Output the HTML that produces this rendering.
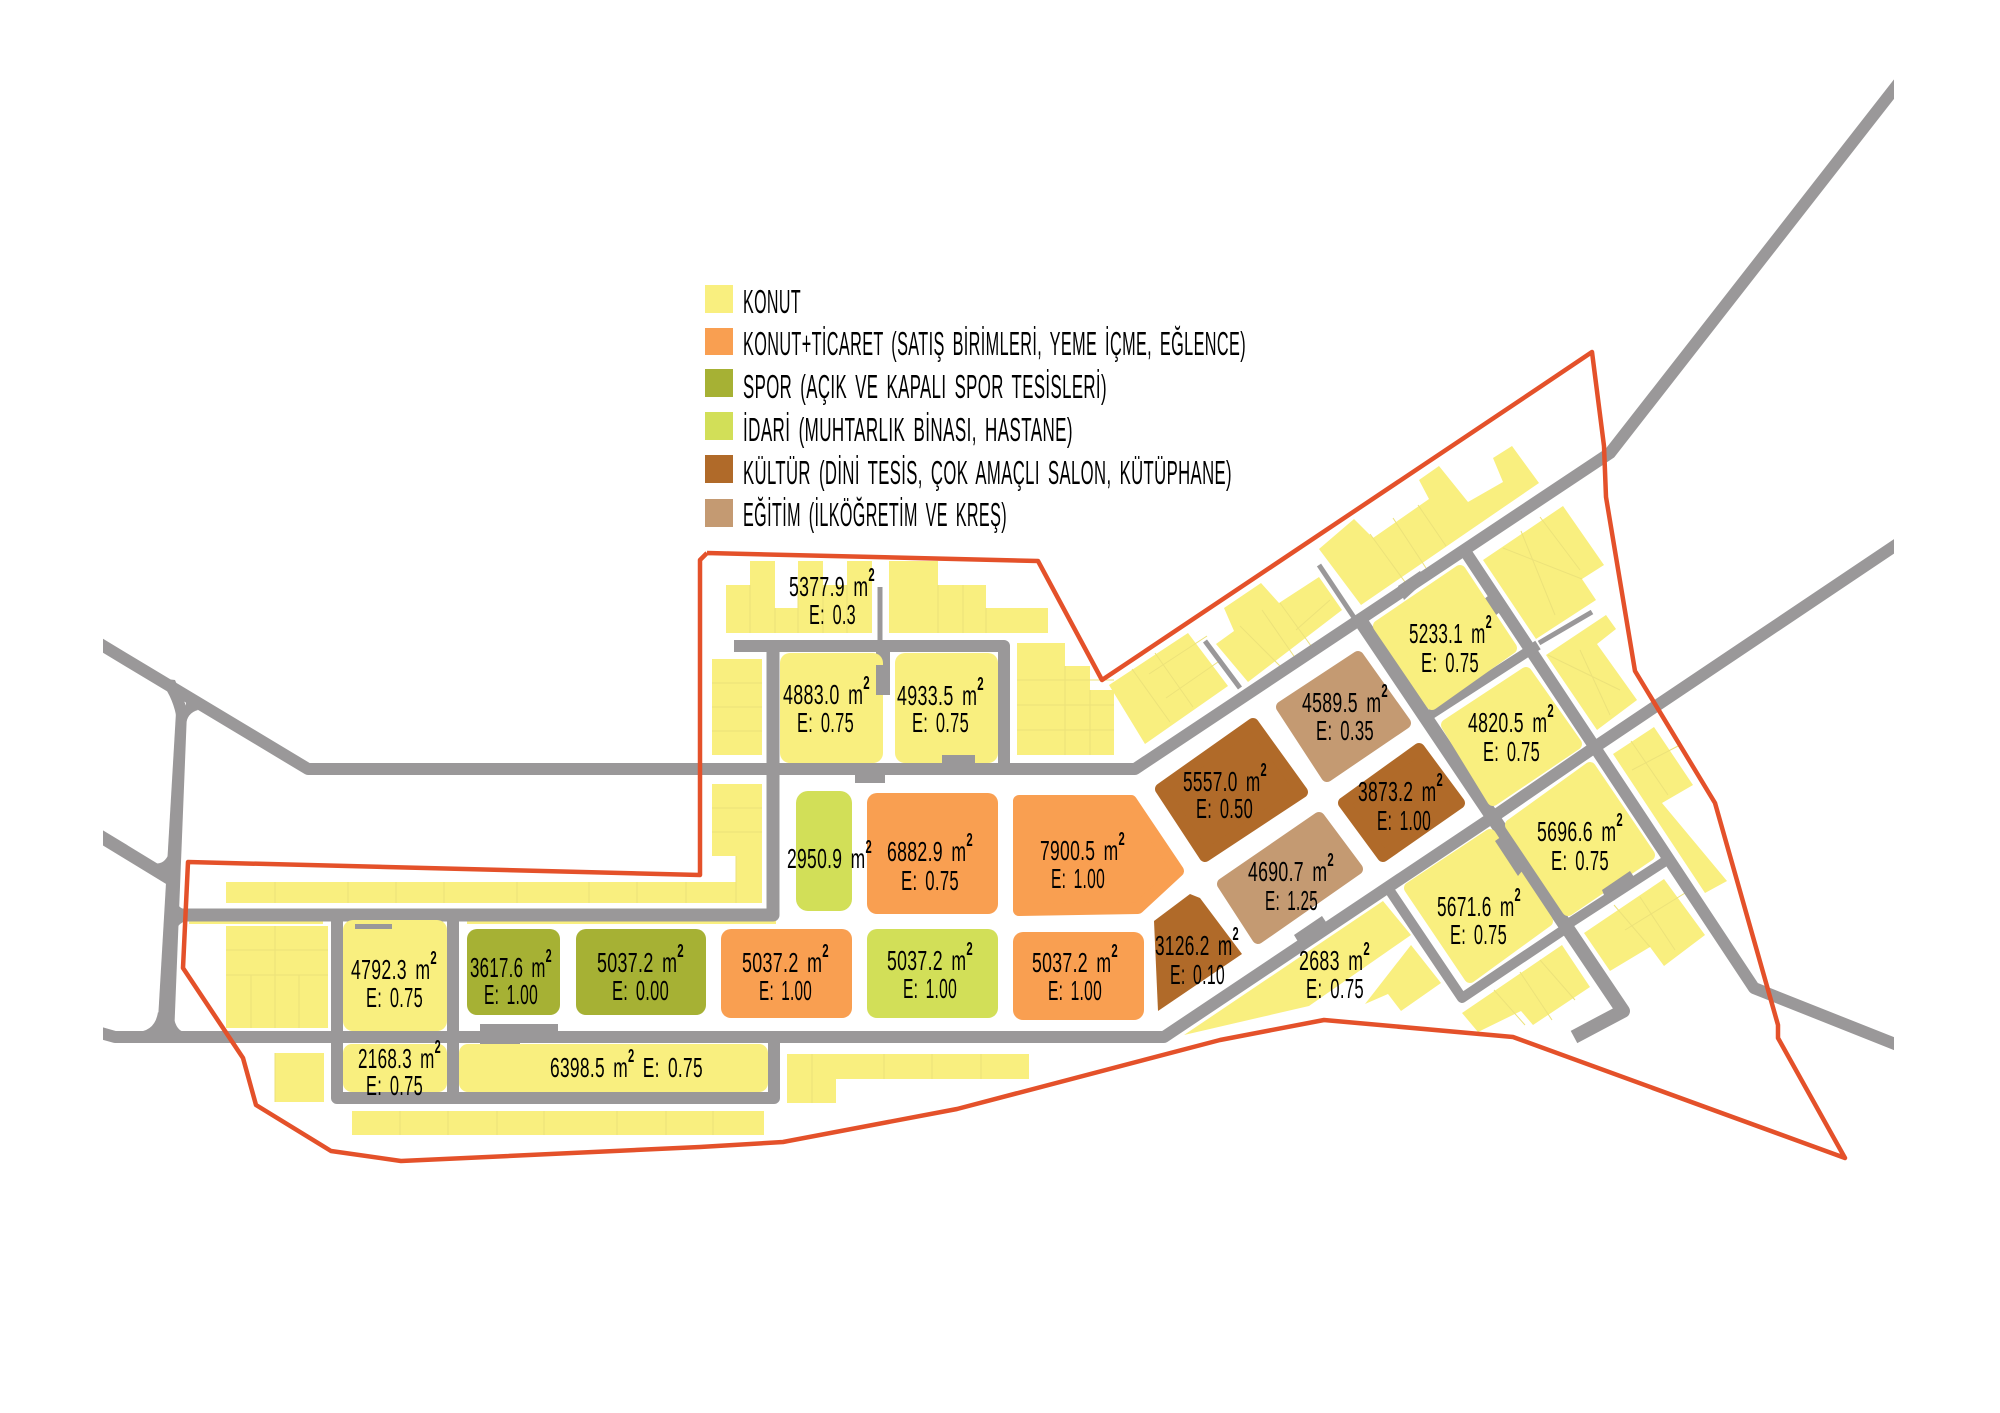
<!DOCTYPE html>
<html><head><meta charset="utf-8"><style>
html,body{margin:0;padding:0;background:#fff;width:2000px;height:1413px;overflow:hidden}
svg{display:block}
text{font-family:"Liberation Sans Narrow","Liberation Sans",sans-serif;fill:#000;font-size:28px;letter-spacing:.5px;word-spacing:5px}
.l text{font-size:33px;letter-spacing:.8px;word-spacing:6px}
.u{font-size:18px;font-weight:bold}
.y{fill:#f9ef7f}.o{fill:#f99f51}.s{fill:#a6b134}.g{fill:#d2df58}.b{fill:#b06a29}.t{fill:#c49a72}
.ry{fill:#f9ef7f;stroke:#f9ef7f}.ro{fill:#f99f51;stroke:#f99f51}.rb{fill:#b06a29;stroke:#b06a29}.rt{fill:#c49a72;stroke:#c49a72}
.rr polygon{stroke-width:12;stroke-linejoin:round}
.r{fill:none;stroke:#9a9899;stroke-linejoin:round}
.d{stroke:#ece27a;stroke-width:1;fill:none}
</style></head><body>
<svg width="2000" height="1413" viewBox="0 0 2000 1413" xmlns="http://www.w3.org/2000/svg">
<defs><clipPath id="c"><rect x="103" y="0" width="1791" height="1413"/></clipPath></defs>
<rect width="2000" height="1413" fill="#fff"/>

<!-- outer residential parcels -->
<g class="y">
<polygon points="726,585 750,585 750,561 775,561 775,608 798,608 798,561 823,561 823,585 847,585 847,561 872,561 872,633 726,633"/>
<polygon points="889,561 938,561 938,585 986,585 986,608 1048,608 1048,633 889,633"/>
<polygon points="1017,643 1065,643 1065,666 1090,666 1090,690 1114,690 1114,755 1017,755"/>
<rect x="712" y="659" width="50" height="96"/>
<polygon points="712,784 762,784 762,903 226,903 226,882 736,882 736,856 712,856"/>
<rect x="226" y="926" width="102" height="102"/>
<rect x="275" y="1053" width="49" height="49"/>
<rect x="352" y="1111" width="412" height="24"/>
<polygon points="787,1054 1029,1054 1029,1079 836,1079 836,1103 787,1103"/>
<rect x="189" y="920" width="134" height="4"/>
<rect x="467" y="920" width="309" height="4"/>
<polygon points="1109,685 1188,633 1228,686 1145,744"/>
<polygon points="1216,644 1234,631 1224,608 1261,583 1279,603 1319,577 1342,610 1248,682"/>
<polygon points="1319,549 1354,519 1373,538 1429,499 1419,480 1439,466 1468,502 1503,482 1493,458 1512,446 1539,483 1361,605"/>
<polygon points="1483,560 1563,506 1604,565 1582,579 1596,600 1536,639"/>
<polygon points="1546,655 1606,615 1616,629 1597,644 1637,700 1597,730"/>
<polygon points="1613,754 1654,727 1693,785 1662,803 1727,881 1705,893"/>
<polygon points="1584,933 1664,879 1705,935 1664,966 1650,947 1610,971"/>
<polygon points="1462,1013 1562,945 1590,987 1533,1025 1521,1011 1478,1032"/>
<polygon points="1411,945 1441,983 1401,1011 1388,994 1365,1004"/>
<polygon points="1184,1035 1383,901 1411,935 1309,1006"/>
</g>
<g class="d">
<path d="M750,585V633M775,608V633M798,585V633M823,585V633M847,585V633M938,585V633M963,585V633M986,608V633M1017,680H1114M1017,705H1114M1017,730H1114M1065,666V755M1090,690V755"/>
<path d="M712,683H762M712,707H762M712,731H762M712,808H762M712,832H762M736,856V903M275,882V903M348,882V903M396,882V903M444,882V903M517,882V903M589,882V903M637,882V903M686,882V903"/>
<path d="M275,926V1028M226,950H328M226,975H328M251,975V1028M299,975V1028M275,1053V1102M400,1111V1135M448,1111V1135M497,1111V1135M544,1111V1135M617,1111V1135M666,1111V1135M713,1111V1135M812,1054V1103M884,1054V1079M932,1054V1079M981,1054V1079"/>
<path d="M1132,669L1170,722M1155,653L1193,707M1149,674L1207,636M1166,698L1218,662M1240,626L1281,667M1262,610L1298,662M1280,603L1314,650M1296,630L1330,600M1370,534L1405,582M1393,518L1426,568M1418,505L1446,546M1503,548L1582,579M1521,531L1555,615M1540,517L1580,570M1548,655L1620,690M1580,650L1610,715M1631,741L1668,795M1632,770L1680,745M1614,905L1650,947M1640,897L1675,950M1625,930L1690,890M1494,990L1525,1025M1520,972L1552,1020M1540,960L1575,1000"/>
</g>

<!-- roads -->
<g clip-path="url(#c)">
<g class="r">
<polyline stroke-width="12" points="90,638 308,769 1135,769 1610,453 1905,75"/>
<polyline stroke-width="12" points="90,1030 115,1037 1164,1037 1493,817 1595,747 1905,539"/>
<polyline stroke-width="13" points="90,830 172,880"/>
<polyline stroke-width="13" points="176,915 773,915 773,646"/>
<polyline stroke-width="12" points="734,646 1004,646 1004,769"/>
<polyline stroke-width="12" points="337,915 337,1098 774,1098 774,1037"/>
<polyline stroke-width="12" points="453,915 453,1098"/>
<polyline stroke-width="12" points="1463,548 1754,988 1905,1048"/>
<polyline stroke-width="14" points="1360,620 1623,1011 1574,1037"/>
<polyline stroke-width="10" points="1425,718 1538,645"/>
<polyline stroke-width="10" points="1562,928 1664,862"/>
<polyline stroke-width="10" points="1388,888 1462,998 1562,931"/>
<polyline stroke-width="5" points="880,587 880,646"/>
<polyline stroke-width="5" points="1319,565 1355,619"/>
<polyline stroke-width="5" points="1205,641 1240,688"/>
<polyline stroke-width="5" points="1539,643 1592,612"/>
</g>
</g>
<g fill="#9a9899">
<polygon points="176,712 187,712 174,1037 157,1037"/>
<path d="M158,678Q172,695 176,715L190,715L175,680Z"/>
<path d="M186,725Q187,713 198,710L186,698Z"/>
<path d="M150,862Q165,868 170,850L170,878Z"/>
<path d="M135,1032Q155,1032 158,1012L170,1032Z"/>
<path d="M173,1012Q175,1032 186,1032L173,1036Z"/>
<path d="M176,900Q178,910 190,910L176,915Z"/>
<path d="M176,932Q178,921 190,921L176,915Z"/>
<rect x="876" y="652" width="14" height="43"/>
<rect x="855" y="774" width="30" height="9"/>
<rect x="942" y="755" width="33" height="9"/>
<rect x="480" y="1024" width="78" height="9"/>
<rect x="480" y="1042" width="40" height="9"/>
<rect x="355" y="924" width="37" height="5"/>
<polygon points="1294,935 1322,916 1328,925 1300,945"/>
<polygon points="1398,586 1420,571 1426,580 1404,600"/>
<polygon points="1475,606 1488,596 1500,612 1487,622"/>
</g>

<!-- blocks -->
<rect class="y" x="780" y="653" width="103" height="110" rx="10"/>
<rect class="y" x="895" y="653" width="103" height="110" rx="10"/>
<rect fill="#9a9899" x="876" y="665" width="7" height="30"/>
<rect fill="#9a9899" x="942" y="755" width="33" height="9"/>
<rect class="y" x="343" y="920" width="104" height="111" rx="10"/>
<rect fill="#9a9899" x="355" y="924" width="37" height="5"/>
<rect class="s" x="467" y="929" width="93" height="86" rx="10"/>
<rect class="s" x="576" y="929" width="130" height="86" rx="10"/>
<rect class="o" x="721" y="929" width="131" height="89" rx="10"/>
<rect class="g" x="867" y="929" width="131" height="89" rx="10"/>
<rect class="o" x="1013" y="932" width="131" height="88" rx="10"/>
<rect class="g" x="796" y="791" width="56" height="120" rx="12"/>
<rect class="o" x="867" y="793" width="131" height="121" rx="10"/>
<rect class="y" x="343" y="1044" width="104" height="48" rx="9"/>
<rect class="y" x="459" y="1044" width="309" height="48" rx="9"/>
<g class="rr">
<polygon class="ro" points="1019,801 1131,801 1178,871 1138,908 1019,910"/>
<polygon class="rb" points="1161,789 1253,724 1302,792 1205,856"/>
<polygon class="rt" points="1282,707 1358,657 1405,723 1327,776"/>
<polygon class="rb" points="1344,803 1419,749 1459,803 1383,856"/>
<polygon class="rt" points="1223,884 1319,818 1357,869 1258,938"/>
<polygon class="ry" points="1379,626 1460,571 1511,648 1432,704"/>
<polygon class="ry" points="1447,725 1526,673 1576,744 1493,800"/>
<polygon class="ry" points="1511,825 1590,768 1649,855 1568,910"/>
<polygon class="ry" points="1410,888 1490,835 1547,921 1470,977"/>
</g>
<polygon class="b" points="1154,921 1190,894 1200,898 1242,954 1158,1011"/>
<g fill="#9a9899">
<polygon points="1495,841 1505,834 1526,866 1518,876"/>
<polygon points="1602,890 1630,871 1636,880 1606,900"/>
</g>

<!-- boundary -->
<polyline fill="none" stroke="#e4512a" stroke-width="4.5" stroke-linejoin="round" points="707,553 1038,561 1102,680 1537,389 1592,352 1604,446 1606,497 1635,671 1715,803 1778,1025 1778,1038 1845,1158 1513,1037 1324,1020 1220,1040 957,1109 783,1142 700,1147 401,1161 331,1151 256,1105 243,1058 183,968 188,862 700,875 700,560 707,553"/>

<!-- legend -->
<rect class="y" x="705" y="285" width="28" height="28"/>
<rect class="o" x="705" y="328" width="28" height="27"/>
<rect class="s" x="705" y="369" width="28" height="28"/>
<rect class="g" x="705" y="412" width="28" height="28"/>
<rect class="b" x="705" y="455" width="28" height="28"/>
<rect class="t" x="705" y="499" width="28" height="28"/>
<g class="l">
<text x="743" y="313" textLength="58" lengthAdjust="spacingAndGlyphs">KONUT</text>
<text x="743" y="355" textLength="503" lengthAdjust="spacingAndGlyphs">KONUT+TİCARET (SATIŞ BİRİMLERİ, YEME İÇME, EĞLENCE)</text>
<text x="743" y="398" textLength="364" lengthAdjust="spacingAndGlyphs">SPOR (AÇIK VE KAPALI SPOR TESİSLERİ)</text>
<text x="743" y="441" textLength="330" lengthAdjust="spacingAndGlyphs">İDARİ (MUHTARLIK BİNASI, HASTANE)</text>
<text x="743" y="484" textLength="489" lengthAdjust="spacingAndGlyphs">KÜLTÜR (DİNİ TESİS, ÇOK AMAÇLI SALON, KÜTÜPHANE)</text>
<text x="743" y="526" textLength="264" lengthAdjust="spacingAndGlyphs">EĞİTİM (İLKÖĞRETİM VE KREŞ)</text>
</g>

<!-- labels -->
<g>
<text x="789" y="596" textLength="86" lengthAdjust="spacingAndGlyphs">5377.9 m<tspan class="u" dy="-15">2</tspan></text><text x="809" y="624" textLength="47" lengthAdjust="spacingAndGlyphs">E: 0.3</text>
<text x="783" y="704" textLength="87" lengthAdjust="spacingAndGlyphs">4883.0 m<tspan class="u" dy="-15">2</tspan></text><text x="797" y="732" textLength="57" lengthAdjust="spacingAndGlyphs">E: 0.75</text>
<text x="897" y="705" textLength="87" lengthAdjust="spacingAndGlyphs">4933.5 m<tspan class="u" dy="-15">2</tspan></text><text x="912" y="732" textLength="57" lengthAdjust="spacingAndGlyphs">E: 0.75</text>
<text x="351" y="979" textLength="86" lengthAdjust="spacingAndGlyphs">4792.3 m<tspan class="u" dy="-15">2</tspan></text><text x="366" y="1007" textLength="57" lengthAdjust="spacingAndGlyphs">E: 0.75</text>
<text x="470" y="977" textLength="82" lengthAdjust="spacingAndGlyphs">3617.6 m<tspan class="u" dy="-15">2</tspan></text><text x="484" y="1004" textLength="54" lengthAdjust="spacingAndGlyphs">E: 1.00</text>
<text x="597" y="972" textLength="87" lengthAdjust="spacingAndGlyphs">5037.2 m<tspan class="u" dy="-15">2</tspan></text><text x="612" y="1000" textLength="57" lengthAdjust="spacingAndGlyphs">E: 0.00</text>
<text x="358" y="1068" textLength="83" lengthAdjust="spacingAndGlyphs">2168.3 m<tspan class="u" dy="-15">2</tspan></text><text x="366" y="1095" textLength="57" lengthAdjust="spacingAndGlyphs">E: 0.75</text>
<text x="550" y="1077" textLength="153" lengthAdjust="spacingAndGlyphs">6398.5 m<tspan class="u" dy="-15">2</tspan><tspan dy="15"> E: 0.75</tspan></text>
<text x="787" y="868" textLength="85" lengthAdjust="spacingAndGlyphs">2950.9 m<tspan class="u" dy="-15">2</tspan></text>
<text x="887" y="861" textLength="86" lengthAdjust="spacingAndGlyphs">6882.9 m<tspan class="u" dy="-15">2</tspan></text><text x="901" y="890" textLength="58" lengthAdjust="spacingAndGlyphs">E: 0.75</text>
<text x="1040" y="860" textLength="85" lengthAdjust="spacingAndGlyphs">7900.5 m<tspan class="u" dy="-15">2</tspan></text><text x="1051" y="888" textLength="54" lengthAdjust="spacingAndGlyphs">E: 1.00</text>
<text x="742" y="972" textLength="87" lengthAdjust="spacingAndGlyphs">5037.2 m<tspan class="u" dy="-15">2</tspan></text><text x="759" y="1000" textLength="53" lengthAdjust="spacingAndGlyphs">E: 1.00</text>
<text x="887" y="970" textLength="86" lengthAdjust="spacingAndGlyphs">5037.2 m<tspan class="u" dy="-15">2</tspan></text><text x="903" y="998" textLength="54" lengthAdjust="spacingAndGlyphs">E: 1.00</text>
<text x="1032" y="972" textLength="86" lengthAdjust="spacingAndGlyphs">5037.2 m<tspan class="u" dy="-15">2</tspan></text><text x="1048" y="1000" textLength="54" lengthAdjust="spacingAndGlyphs">E: 1.00</text>
<text x="1155" y="955" textLength="84" lengthAdjust="spacingAndGlyphs">3126.2 m<tspan class="u" dy="-15">2</tspan></text><text x="1170" y="984" textLength="55" lengthAdjust="spacingAndGlyphs">E: 0.10</text>
<text x="1248" y="881" textLength="86" lengthAdjust="spacingAndGlyphs">4690.7 m<tspan class="u" dy="-15">2</tspan></text><text x="1265" y="910" textLength="53" lengthAdjust="spacingAndGlyphs">E: 1.25</text>
<text x="1299" y="970" textLength="71" lengthAdjust="spacingAndGlyphs">2683 m<tspan class="u" dy="-15">2</tspan></text><text x="1306" y="998" textLength="58" lengthAdjust="spacingAndGlyphs">E: 0.75</text>
<text x="1409" y="643" textLength="83" lengthAdjust="spacingAndGlyphs">5233.1 m<tspan class="u" dy="-15">2</tspan></text><text x="1421" y="672" textLength="58" lengthAdjust="spacingAndGlyphs">E: 0.75</text>
<text x="1468" y="732" textLength="86" lengthAdjust="spacingAndGlyphs">4820.5 m<tspan class="u" dy="-15">2</tspan></text><text x="1483" y="761" textLength="57" lengthAdjust="spacingAndGlyphs">E: 0.75</text>
<text x="1537" y="841" textLength="86" lengthAdjust="spacingAndGlyphs">5696.6 m<tspan class="u" dy="-15">2</tspan></text><text x="1551" y="870" textLength="58" lengthAdjust="spacingAndGlyphs">E: 0.75</text>
<text x="1437" y="916" textLength="84" lengthAdjust="spacingAndGlyphs">5671.6 m<tspan class="u" dy="-15">2</tspan></text><text x="1450" y="944" textLength="57" lengthAdjust="spacingAndGlyphs">E: 0.75</text>
<text x="1302" y="712" textLength="86" lengthAdjust="spacingAndGlyphs">4589.5 m<tspan class="u" dy="-15">2</tspan></text><text x="1316" y="740" textLength="58" lengthAdjust="spacingAndGlyphs">E: 0.35</text>
<text x="1183" y="791" textLength="84" lengthAdjust="spacingAndGlyphs">5557.0 m<tspan class="u" dy="-15">2</tspan></text><text x="1196" y="818" textLength="57" lengthAdjust="spacingAndGlyphs">E: 0.50</text>
<text x="1358" y="801" textLength="85" lengthAdjust="spacingAndGlyphs">3873.2 m<tspan class="u" dy="-15">2</tspan></text><text x="1377" y="830" textLength="54" lengthAdjust="spacingAndGlyphs">E: 1.00</text>
</g>
</svg>
</body></html>
